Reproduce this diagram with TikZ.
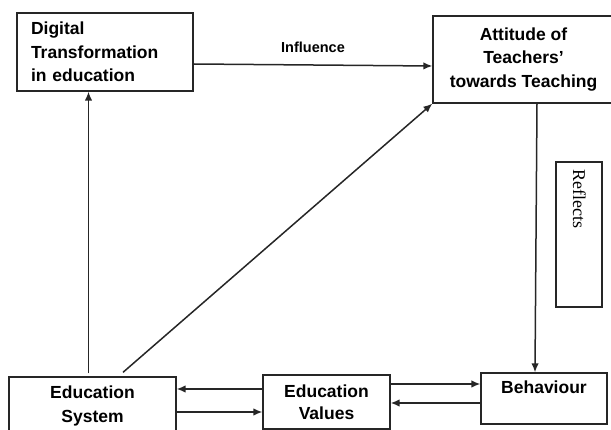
\documentclass[tikz,border=0pt]{standalone}
\usepackage{fontspec}
\setmainfont{Liberation Sans}
\newfontfamily\reflfont{Liberation Serif}
\usetikzlibrary{arrows.meta,calc}
\tikzset{
  box/.style={draw=black!85, line width=1.3pt, rectangle, inner sep=0pt,
    font=\fontsize{17.5}{23.5}\selectfont\bfseries, align=center},
  arr/.style={draw=black!85, line width=1.5pt, -{Latex[length=9pt,width=7.5pt]}},
  lab/.style={font=\fontsize{14.5}{16}\selectfont\bfseries, inner sep=0pt}
}
\begin{document}
\begin{tikzpicture}[x=1pt,y=-1pt]
\useasboundingbox (0,0) rectangle (611,430);
\clip (0,0) rectangle (611,430);
% boxes
\node[box, minimum width=176, minimum height=78, text width=148, align=left] (Digital) at (105,52)
  {Digital\\Transformation\\in education};
\node[box, minimum width=181, minimum height=87] (Attitude) at (523.5,59.5)
  {Attitude of\\Teachers'\\towards Teaching};
\node[box, minimum width=46, minimum height=145] (Reflbox) at (579,234.5) {};
\node[font=\reflfont\fontsize{18}{20}\selectfont, rotate=-90, anchor=base west, inner sep=0pt] (Refl) at (573,169) {Reflects};
\node[box, minimum width=167, minimum height=58] (System) at (92.5,406)
  {Education\\System};
\node[box, minimum width=127, minimum height=54, font=\fontsize{17.5}{22}\selectfont\bfseries] (Values) at (326.5,402)
  {Education\\Values};
\node[box, minimum width=126, minimum height=51, text height=15, text depth=24, inner ysep=6] (Behaviour) at (544,398.5)
  {Behaviour};
% connectors
\draw[arr] ($(Digital.east)+(0,12)$) -- ($(Attitude.west)+(0,6.5)$)
  node[lab, midway, above=12pt] (Infl) {Influence};
\draw[arr] ($(System.north)+(-4,-3)$) coordinate (u) -- (u |- Digital.south);
\draw[arr] ($(System.north)+(30.5,-4)$) -- (Attitude.south west);
\draw[arr] ($(Attitude.south)+(13.5,0)$) -- ($(Behaviour.north)+(-9,0)$);
\draw[arr] ($(Values.west)+(0,-13)$) coordinate (v1) -- (v1 -| System.east);
\draw[arr] ($(Values.west)+(0,10)$) coordinate (v2) ++(0,0) (v2 -| System.east) -- (v2);
\draw[arr] ($(Values.east)+(0,-18)$) coordinate (v3) -- (v3 -| Behaviour.west);
\draw[arr] ($(Values.east)+(0,1)$) coordinate (v4) ++(0,0) (v4 -| Behaviour.west) -- (v4);
\end{tikzpicture}
\end{document}
